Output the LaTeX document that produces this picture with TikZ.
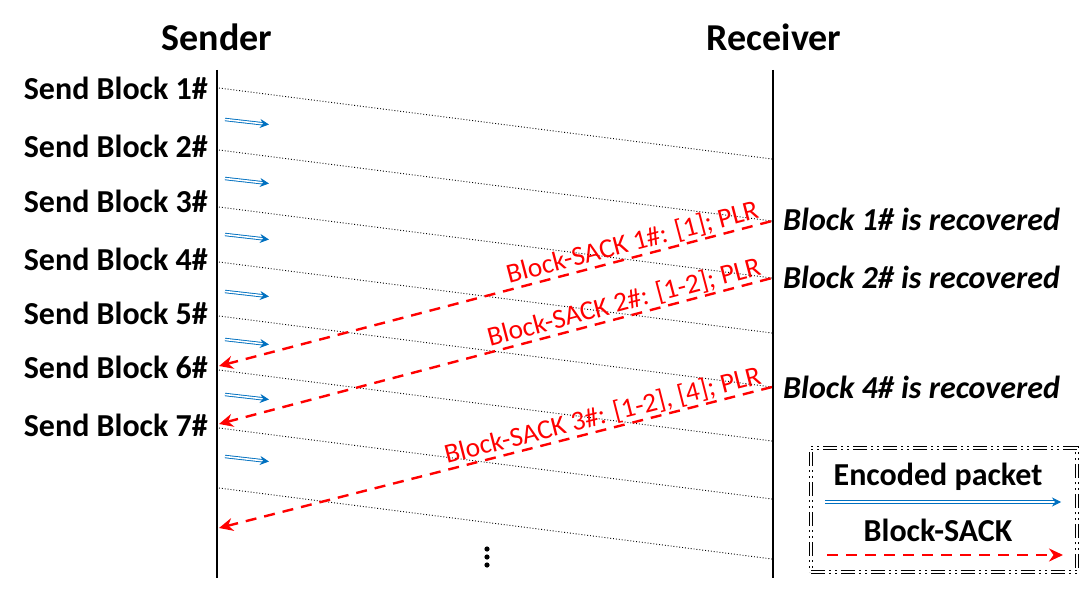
\documentclass[tikz,border=0pt]{standalone}
\usepackage{fontspec}
\setmainfont{Carlito}
\usetikzlibrary{positioning, arrows.meta}
\definecolor{pktblue}{RGB}{0,112,192}
\tikzset{
timeline/.style={line width=2.6pt}, % the sender and receiver lines
packet/.style={dotted, line width=0.9pt}, % packets of one block in flight
encoded/.style={-{Stealth[length=9pt,width=9pt]}, pktblue, double, line width=0.9pt, double distance=1.6pt}, % encoded packet arrow
sack/.style={{Stealth[length=14pt,width=13pt]}-, red, line width=2.4pt, dash pattern=on 11pt off 8pt}, % Block-SACK arrow
title/.style={font=\fontsize{38}{40}\selectfont\bfseries}, % Sender, Receiver
sendlabel/.style={font=\fontsize{32}{34}\selectfont\bfseries, anchor=east, inner sep=0pt},
recovered/.style={font=\fontsize{32}{34}\selectfont\bfseries\itshape, anchor=west, inner sep=0pt},
sacklabel/.style={font=\fontsize{27.5}{30}\selectfont, red, sloped, above, inner sep=1pt},
legendtext/.style={font=\fontsize{32}{34}\selectfont\bfseries},
}
\begin{document}
\begin{tikzpicture}[x=1pt, y=-1pt]
    \useasboundingbox (0,0) rectangle (1085,591);
    \node[title] (sender) at (217,37) {Sender};
    \node[title] (receiver) at (774,37) {Receiver};
    \coordinate (stop) at (217,70);
    \coordinate (sbot) at (217,578);
    \coordinate (rtop) at (773,70);
    \coordinate (rbot) at (773,578);
    \draw[timeline] (stop) -- (sbot);
    \draw[timeline] (rtop) -- (rbot);
    % blocks on their way to the receiver
    \foreach \i/\y in {1/88, 2/150, 3/207, 4/262, 5/316, 6/370, 7/428, 8/488} {
      \coordinate (s\i) at (219,\y);
      \coordinate (r\i) at (772,\y+71);
      \draw[packet] (s\i) -- (r\i);
    }
    \foreach \i/\y in {1/88, 2/146, 3/201, 4/259, 5/313, 6/367, 7/425}
      \node[sendlabel] (b\i) at (208,\y) {Send Block \i\#};
    \foreach \i/\y in {1/122, 2/181, 3/237, 4/294, 5/342, 6/397, 7/459} {
      \coordinate (e\i) at (225,\y-2.5);
      \coordinate (f\i) at (269,\y+2.5);
      \draw[encoded] (e\i) -- (f\i);
    }
    % acknowledgements
    \coordinate (k1) at (219,366);
    \coordinate (k2) at (219,424);
    \coordinate (k3) at (219,528);
    \draw[sack] (k1) -- node[sacklabel, pos=.754] (l1) {Block-SACK 1\#: [1]; PLR} (r2);
    \draw[sack] (k2) -- node[sacklabel, pos=.739] (l2) {Block-SACK 2\#: [1-2]; PLR} (r3);
    \draw[sack] (k3) -- node[sacklabel, pos=.70] (l3) {Block-SACK 3\#: [1-2], [4]; PLR} (r5);
    \node[recovered] (rec1) at (783,219) {Block 1\# is recovered};
    \node[recovered] (rec2) at (783,277) {Block 2\# is recovered};
    \node[recovered] (rec4) at (783,387) {Block 4\# is recovered};
    \foreach \y in {549, 557, 565}
      \fill (487,\y) circle (2.6);
    % legend
    \node[draw, double, line width=0.9pt, double distance=1.6pt,
          dash pattern=on 14pt off 4pt on 2pt off 4pt on 2pt off 4pt,
          minimum width=266pt, minimum height=124pt] (legend) at (944,510) {};
    \node[legendtext] (lenc) at (938,477) {Encoded packet};
    \node[legendtext] (lsack) at (938,530) {Block-SACK};
    \coordinate (la) at (825,502);
    \coordinate (lb) at (1061,502);
    \coordinate (lc) at (827,555);
    \coordinate (ld) at (1063,555);
    \draw[encoded] (la) -- (lb);
    \draw[sack, -{Stealth[length=14pt,width=13pt]}] (lc) -- (ld);
\end{tikzpicture}
\end{document}
